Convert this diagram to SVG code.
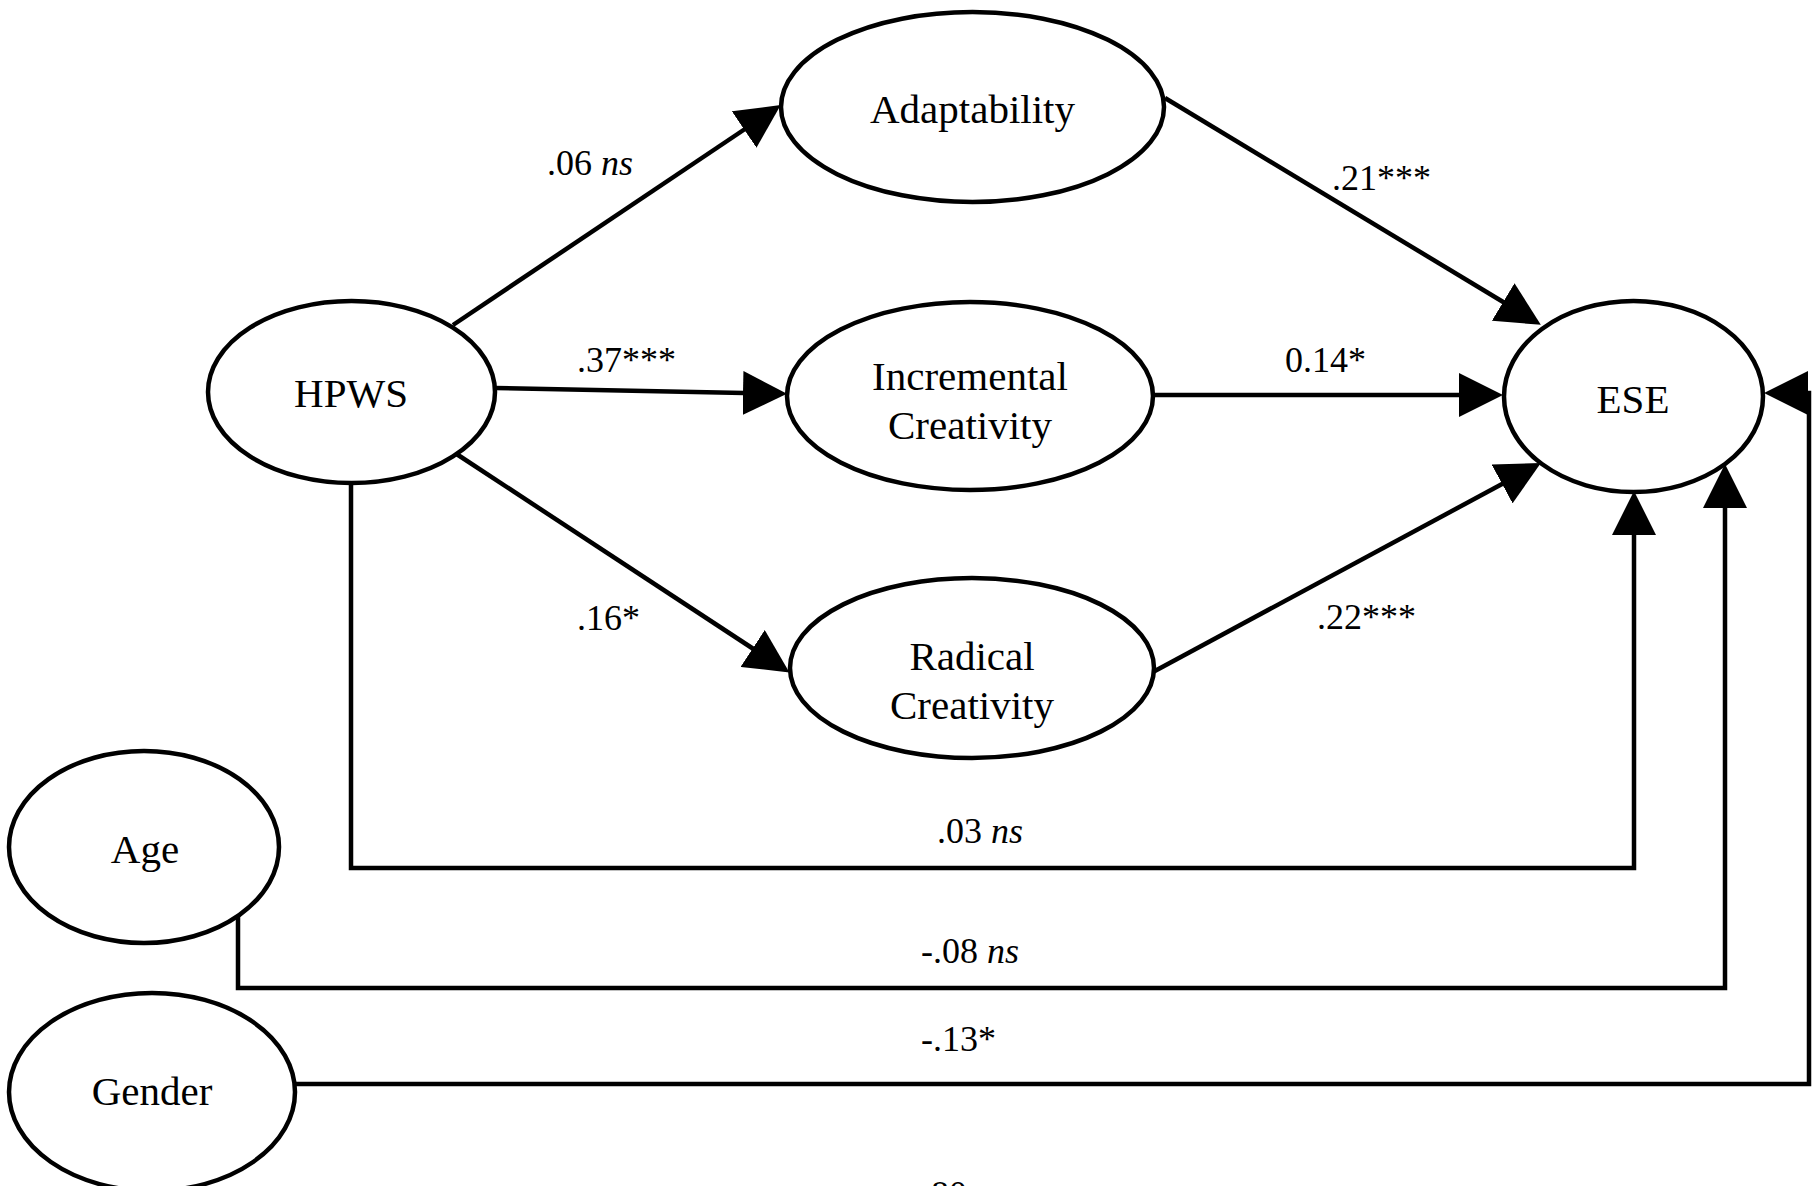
<svg xmlns="http://www.w3.org/2000/svg" width="1813" height="1186" viewBox="0 0 1813 1186">
<style>
.node{fill:#fff;stroke:#000;stroke-width:4.5}
.nl{font-family:"Liberation Serif","Times New Roman",serif;font-size:41px;fill:#000;text-anchor:middle}
.el{font-family:"Liberation Serif","Times New Roman",serif;font-size:36px;fill:#000}
.edge{fill:none;stroke:#000;stroke-width:4.5;marker-end:url(#ah)}
</style>
<defs>
<marker id="ah" markerUnits="userSpaceOnUse" viewBox="0 0 44 44" markerWidth="44" markerHeight="44" refX="1" refY="22" orient="auto">
<path d="M0,0 L44,22 L0,44 z" fill="#000"/>
</marker>
</defs>
<rect width="1813" height="1186" fill="#fff"/>
<g id="connectors">
<path class="edge" d="M453,325 L745,129"/>
<path class="edge" d="M495,388 L744,393"/>
<path class="edge" d="M455,453 L753.5,649"/>
<path class="edge" d="M1165,98 L1504,302.5"/>
<path class="edge" d="M1152,395 L1460,395"/>
<path class="edge" d="M1153,672 L1503,483.5"/>
<path class="edge" d="M351,479 V868 H1634 V534"/>
<path class="edge" d="M238,913 V988 H1725 V507"/>
<path class="edge" d="M295,1084 H1809 V393 H1807"/>
<text class="el" x="547" y="175">.06 <tspan font-style="italic">ns</tspan></text>
<text class="el" x="577" y="372">.37***</text>
<text class="el" x="577" y="630">.16*</text>
<text class="el" x="1332" y="190">.21***</text>
<text class="el" x="1285" y="372">0.14*</text>
<text class="el" x="1317" y="629">.22***</text>
<text class="el" x="937" y="843">.03 <tspan font-style="italic">ns</tspan></text>
<text class="el" x="921" y="963">-.08 <tspan font-style="italic">ns</tspan></text>
<text class="el" x="921" y="1051">-.13*</text>
<text class="el" x="922" y="1206">.80</text>
</g>
<g id="adaptability">
<ellipse class="node" cx="972.5" cy="107" rx="191.5" ry="95"/>
<text class="nl" x="972.5" y="123">Adaptability</text>
</g>
<g id="hpws">
<ellipse class="node" cx="351.5" cy="392" rx="143.5" ry="91"/>
<text class="nl" x="351" y="407">HPWS</text>
</g>
<g id="incremental">
<ellipse class="node" cx="970" cy="396" rx="183" ry="94"/>
<text class="nl" x="970" y="390">Incremental</text>
<text class="nl" x="970" y="439">Creativity</text>
</g>
<g id="radical">
<ellipse class="node" cx="972" cy="668" rx="182" ry="90"/>
<text class="nl" x="972" y="670">Radical</text>
<text class="nl" x="972" y="719">Creativity</text>
</g>
<g id="ese">
<ellipse class="node" cx="1633.5" cy="396.5" rx="129.5" ry="95.5"/>
<text class="nl" x="1633" y="413">ESE</text>
</g>
<g id="age">
<ellipse class="node" cx="144" cy="847" rx="135" ry="96"/>
<text class="nl" x="145" y="863">Age</text>
</g>
<g id="gender">
<ellipse class="node" cx="152" cy="1092" rx="143" ry="99"/>
<text class="nl" x="152" y="1105">Gender</text>
</g>
</svg>
